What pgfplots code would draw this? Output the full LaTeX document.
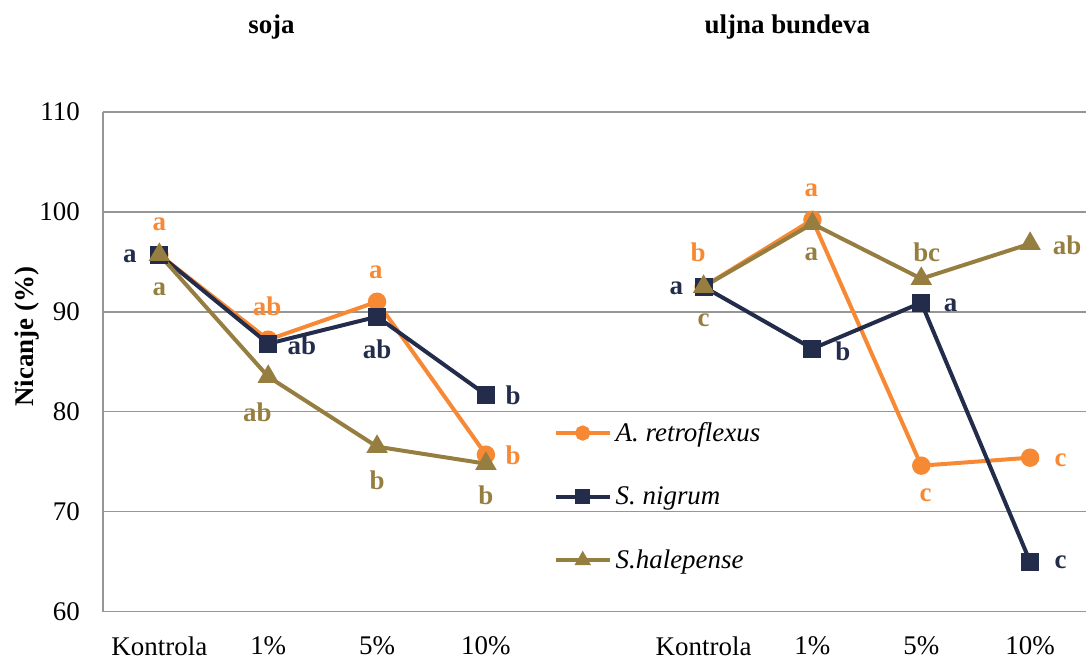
\documentclass[border=0pt]{standalone}
\usepackage{fontspec}
\setmainfont{Liberation Serif}
\usepackage{pgfplots}
\pgfplotsset{compat=1.18}
\definecolor{cOr}{RGB}{247,137,52}
\definecolor{cNa}{RGB}{35,44,75}
\definecolor{cOl}{RGB}{150,126,64}
\definecolor{cGr}{RGB}{150,150,150}
\newcommand{\fs}{\fontsize{13.5}{16}\selectfont}
\begin{document}
\begin{tikzpicture}
\begin{axis}[
  name=ax,
  scale only axis,
  width=492.5pt, height=250.5pt,
  xmin=-0.52, xmax=8.51,
  ymin=60, ymax=110,
  ytick={60,70,80,90,100,110},
  xtick={0,1,2,3,5,6,7,8},
  xticklabels={Kontrola,1\%,5\%,10\%,Kontrola,1\%,5\%,10\%},
  axis x line*=bottom, axis y line*=left,
  axis line style={cGr, line width=0.8pt, -},
  major tick length=0pt,
  ymajorgrids, grid style={cGr, line width=0.8pt},
  tick label style={font=\fs},
  /pgf/number format/assume math mode=true,
  xticklabel style={yshift=-9pt},
  yticklabel style={xshift=-8pt},
  ylabel={\textbf{Nicanje (\%)}},
  ylabel style={font=\fs, at={(axis description cs:-0.077,0.55)}, anchor=center},
  unbounded coords=jump,
  clip=false,
  legend style={at={(axis cs:3.62,79.4)}, anchor=north west, draw=none, fill=none, font=\fs\itshape, row sep=17.2pt, inner sep=0pt},
  legend cell align=left,
  legend image code/.code={\draw[mark repeat=2,mark phase=2,mark size=2.8pt] plot coordinates {(0pt,0pt)(13.5pt,0pt)(27pt,0pt)};},
  every axis plot/.append style={line width=2pt},
]
\addplot[cOr, mark=*, mark size=3.6pt] coordinates {(0,95.7)(1,87.2)(2,91.0)(3,75.7)(4,nan)(5,92.5)(6,99.2)(7,74.6)(8,75.4)};
\addlegendentry{A.\ retroflexus}
\addplot[cNa, mark=square*, mark size=3.5pt] coordinates {(0,95.7)(1,86.8)(2,89.5)(3,81.7)(4,nan)(5,92.5)(6,86.3)(7,90.9)(8,65.0)};
\addlegendentry{S.\ nigrum}
\addplot[cOl, mark=triangle*, mark size=4.2pt] coordinates {(0,95.7)(1,83.5)(2,76.5)(3,74.8)(4,nan)(5,92.5)(6,98.8)(7,93.3)(8,96.8)};
\addlegendentry{S.halepense}

\node[font=\fs\bfseries] at (axis cs:1.03,118.5) {soja};
\node[font=\fs\bfseries] at (axis cs:5.77,118.5) {uljna bundeva};

\begin{scope}[every node/.style={font=\fs\bfseries}]
\node[cOr] at (axis cs:0,98.7) {a};
\node[cNa] at (axis cs:-0.27,95.5) {a};
\node[cOl] at (axis cs:0,92.2) {a};
\node[cOr] at (axis cs:0.99,90.5) {ab};
\node[cNa] at (axis cs:1.31,86.6) {ab};
\node[cOl] at (axis cs:0.9,79.9) {ab};
\node[cOr] at (axis cs:1.99,93.9) {a};
\node[cNa] at (axis cs:2.0,86.2) {ab};
\node[cOl] at (axis cs:2.0,73.1) {b};
\node[cNa] at (axis cs:3.25,81.6) {b};
\node[cOr] at (axis cs:3.25,75.6) {b};
\node[cOl] at (axis cs:3.0,71.6) {b};
\node[cOr] at (axis cs:4.95,95.9) {b};
\node[cNa] at (axis cs:4.75,92.3) {a};
\node[cOl] at (axis cs:5.0,89.1) {c};
\node[cOr] at (axis cs:5.99,102.1) {a};
\node[cOl] at (axis cs:5.99,95.7) {a};
\node[cNa] at (axis cs:6.28,86.0) {b};
\node[cOl] at (axis cs:7.05,95.9) {bc};
\node[cNa] at (axis cs:7.27,90.6) {a};
\node[cOr] at (axis cs:7.04,71.6) {c};
\node[cOl] at (axis cs:8.34,96.6) {ab};
\node[cOr] at (axis cs:8.28,75.1) {c};
\node[cNa] at (axis cs:8.28,64.9) {c};
\end{scope}
\end{axis}
\path[use as bounding box] ([shift={(-51.5pt,-22.5pt)}]ax.south west) rectangle ([shift={(0pt,56pt)}]ax.north east);
\end{tikzpicture}
\end{document}
